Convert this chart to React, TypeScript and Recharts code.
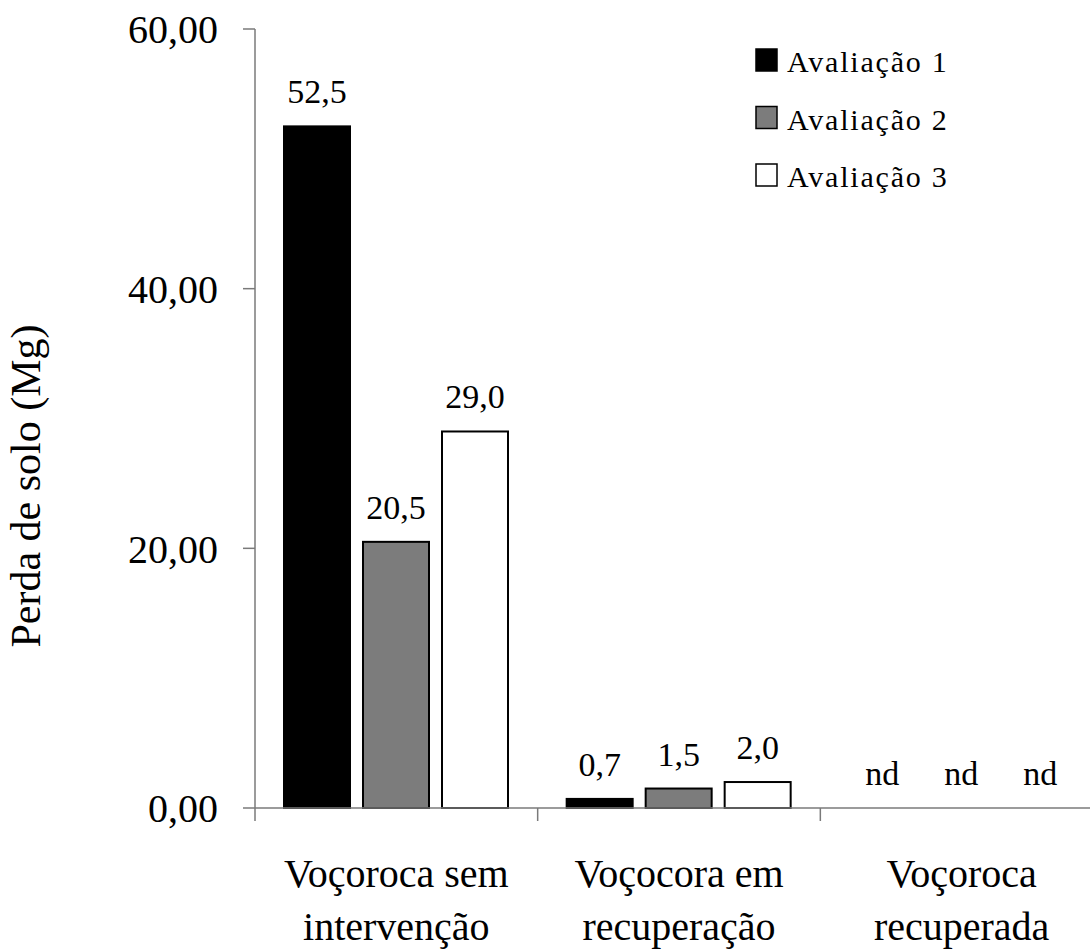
import React from 'react';
import { BarChart, Bar, XAxis, YAxis } from 'recharts';

// categories are split over two lines, as in the picture
const categories = ['Voçoroca sem|intervenção', 'Voçocora em|recuperação', 'Voçoroca|recuperada'];
const avaliacao1 = [52.5, 0.7, 0];
const avaliacao2 = [20.5, 1.5, 0];
const avaliacao3 = [29.0, 2.0, 0];
const rotulos1 = ['52,5', '0,7', 'nd'];
const rotulos2 = ['20,5', '1,5', 'nd'];
const rotulos3 = ['29,0', '2,0', 'nd'];
const yTicks = [0, 20, 40, 60];

const FONT = '"Liberation Serif", "Times New Roman", Times, serif';
const AXIS_COLOR = '#7a7a7a';

const series = [
  { key: 'a1', label: 'l1', name: 'Avaliação 1', fill: '#000000', stroke: '#000000' },
  { key: 'a2', label: 'l2', name: 'Avaliação 2', fill: '#7c7c7c', stroke: '#000000' },
  { key: 'a3', label: 'l3', name: 'Avaliação 3', fill: '#ffffff', stroke: '#000000' },
];

const data = categories.map((name, i) => ({
  name,
  a1: avaliacao1[i],
  a2: avaliacao2[i],
  a3: avaliacao3[i],
  l1: rotulos1[i],
  l2: rotulos2[i],
  l3: rotulos3[i],
}));

// the plot runs a little past the right edge of the picture, like the original
const PAGE_W = 1090;
const PAGE_H = 952;
const CHART_W = 1103;
const Y_AXIS_W = 255;
const PLOT_W = CHART_W - Y_AXIS_W;

function CategoryTick(props: any) {
  const { x, y, payload } = props;
  const lines = String(payload.value).split('|');
  const half = payload.offset ?? PLOT_W / categories.length / 2;
  return (
    <g>
      <line x1={x - half} y1={y} x2={x - half} y2={y + 13} stroke={AXIS_COLOR} strokeWidth={1.5} />
      {lines.map((line, i) => (
        <text
          key={i}
          x={x}
          y={y + 79 + i * 53}
          textAnchor="middle"
          fontFamily={FONT}
          fontSize={40}
          fill="#000"
        >
          {line}
        </text>
      ))}
    </g>
  );
}

// bar drawn with its value label above it (also for the empty "nd" bars)
function makeShape(labelKey: string) {
  return function BarShape(props: any) {
    const { x, y, width, height, fill, stroke, payload } = props;
    const h = Math.abs(height || 0);
    const top = height < 0 ? y + height : y;
    return (
      <g>
        {h > 0 && (
          <rect x={x} y={top} width={width} height={h} fill={fill} stroke={stroke} strokeWidth={2} />
        )}
        <text
          x={x + width / 2}
          y={top - 23}
          textAnchor="middle"
          fontFamily={FONT}
          fontSize={34}
          fill="#000"
        >
          {payload?.[labelKey]}
        </text>
      </g>
    );
  };
}

function YLabel() {
  return (
    <text
      transform="translate(40, 486) rotate(-90)"
      textAnchor="middle"
      fontFamily={FONT}
      fontSize={42}
      fill="#000"
    >
      Perda de solo (Mg)
    </text>
  );
}

function Legenda() {
  return (
    <svg width={330} height={200} style={{ position: 'absolute', left: 750, top: 20 }}>
      {series.map((s, i) => (
        <g key={s.key} transform={`translate(0, ${i * 57.5})`}>
          <rect x={6} y={29} width={21} height={22} fill={s.fill} stroke="#000" strokeWidth={1.5} />
          <text x={37} y={52} fontFamily={FONT} fontSize={30} letterSpacing={1.8} fill="#000">
            {s.name}
          </text>
        </g>
      ))}
    </svg>
  );
}

export default function App() {
  return (
    <div
      style={{
        position: 'absolute',
        left: 0,
        top: 0,
        width: PAGE_W,
        height: PAGE_H,
        overflow: 'hidden',
        background: '#fff',
      }}
    >
      <BarChart
        width={CHART_W}
        height={PAGE_H}
        data={data}
        margin={{ top: 29, right: 0, left: 0, bottom: 0 }}
        barCategoryGap={29}
        barGap={13}
      >
        <XAxis
          dataKey="name"
          height={144}
          axisLine={{ stroke: AXIS_COLOR, strokeWidth: 1.5 }}
          tickLine={false}
          tickSize={0}
          tickMargin={0}
          interval={0}
          tick={<CategoryTick />}
        />
        <YAxis
          width={Y_AXIS_W}
          domain={[0, 60]}
          ticks={yTicks}
          interval={0}
          axisLine={{ stroke: AXIS_COLOR, strokeWidth: 1.5 }}
          tickLine={{ stroke: AXIS_COLOR, strokeWidth: 1.5 }}
          tickSize={12}
          tickMargin={25}
          tickFormatter={(v: number) => v.toFixed(2).replace('.', ',')}
          tick={{ fontFamily: FONT, fontSize: 40, fill: '#000' }}
          label={<YLabel />}
        />
        {series.map((s) => (
          <Bar
            key={s.key}
            dataKey={s.key}
            name={s.name}
            fill={s.fill}
            stroke={s.stroke}
            strokeWidth={2}
            shape={makeShape(s.label)}
            isAnimationActive={false}
          />
        ))}
      </BarChart>
      <Legenda />
    </div>
  );
}
